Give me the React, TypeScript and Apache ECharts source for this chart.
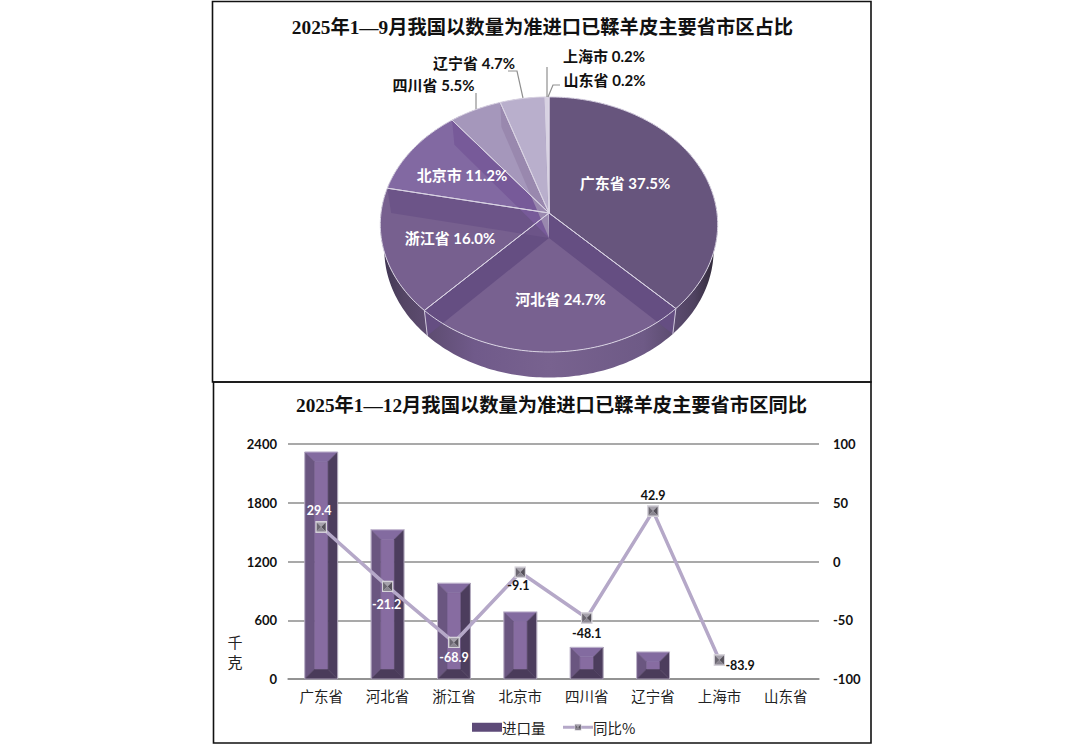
import React, { useEffect, useRef } from "react";
import * as echarts from "echarts";

const pieTitle = "2025年1—9月我国以数量为准进口已鞣羊皮主要省市区占比";
const barTitle = "2025年1—12月我国以数量为准进口已鞣羊皮主要省市区同比";
const provinces = ["广东省", "河北省", "浙江省", "北京市", "四川省", "辽宁省", "上海市", "山东省"];
const pieShares = [37.5, 24.7, 16.0, 11.2, 5.5, 4.7, 0.2, 0.2];
const importKg = [2318, 1524, 978, 685, 323, 276, 12, 12];
const yoyPct = [29.4, -21.2, -68.9, -9.1, -48.1, 42.9, -83.9, null];
const leftTicks = { min: 0, max: 2400, interval: 600 };
const rightTicks = { min: -100, max: 100, interval: 50 };

const sliceColors = ["#67557d", "#786190", "#77608f", "#8269a2", "#a597bb", "#b9afcc", "#d8d2e3", "#e4e0ec"];
const bandColors = ["#654e82", "#654e82", "#6c5488", "#775a99", "#9988ae", "#aa9fc0", "#d8d2e3", "#e4e0ec"];
const labelBoxes: any[] = [
  { x: 625, y: 183, fill: "#fff" },
  { x: 560.5, y: 299, fill: "#fff" },
  { x: 450, y: 238, fill: "#fff" },
  { x: 462, y: 175, fill: "#fff" },
  { x: 433.5, y: 85, fill: "#111", line: [[476, 93], [476, 109]] },
  { x: 474, y: 63, fill: "#111", line: [[508, 71], [517, 71], [523, 98]] },
  { x: 604, y: 56, fill: "#111", line: [[547, 67], [547, 97]] },
  { x: 604.5, y: 80, fill: "#111", line: [[560, 85], [553, 85], [548, 97]] },
];
const lineLabelLayout: any[] = [
  { position: "top", color: "#fff", offset: [-2, 1] },
  { position: "bottom", color: "#fff", offset: [-1, 1] },
  { position: "bottom", color: "#fff", offset: [0, -2] },
  { position: "bottom", color: "#111", offset: [-2, -4] },
  { position: "bottom", color: "#111", offset: [0, -2] },
  { position: "top", color: "#111", offset: [0, 2] },
  { position: "right", color: "#111", offset: [-5, 5] },
  { position: "top", color: "#111", offset: [0, 0] },
];

const cjk = '"Noto Sans CJK SC"';
const latin = `Lato, ${cjk}`;
const serif = `"Liberation Serif", ${cjk}`;

const markerSvg =
  "image://data:image/svg+xml;utf8," +
  encodeURIComponent(
    '<svg xmlns="http://www.w3.org/2000/svg" width="24" height="24">' +
      '<rect width="24" height="24" fill="#d6d3da"/>' +
      '<polygon points="3,3 21,3 12,12" fill="#a5a1ab"/>' +
      '<polygon points="3,3 12,12 3,21" fill="#6c6872"/>' +
      '<polygon points="21,3 21,21 12,12" fill="#55515a"/>' +
      '<polygon points="3,21 21,21 12,12" fill="#8a8690"/>' +
      "</svg>"
  );

// Perspective projection of a tilted disc; theta runs clockwise from the top.
const K = 0.09;
function project(theta: number, disc: any, r = 1) {
  const X = Math.sin(theta) * r;
  const Y = -Math.cos(theta) * r;
  const w = 1 - K * Y;
  return [disc.cx + (disc.rx * X) / w, disc.cy + (disc.ry * Y) / w];
}
const topDisc = { cx: 549, cy: 213, rx: 168, ry: 126.5 };
const bottomDisc = { cx: 549, cy: 238, rx: 164, ry: 127 };
const total = pieShares.reduce((a, b) => a + b, 0);
const angleAt = (i: number) =>
  (pieShares.slice(0, i).reduce((a, b) => a + b, 0) / total) * Math.PI * 2;
function arc(a0: number, a1: number, disc: any) {
  const n = Math.max(2, Math.ceil((a1 - a0) / 0.02));
  const pts: number[][] = [];
  for (let k = 0; k <= n; k++) pts.push(project(a0 + ((a1 - a0) * k) / n, disc));
  return pts;
}

const wallFill = new echarts.graphic.LinearGradient(
  380, 0, 718, 0,
  [
    { offset: 0, color: "#3d3350" },
    { offset: 0.07, color: "#544564" },
    { offset: 0.28, color: "#705a8a" },
    { offset: 0.5, color: "#78628f" },
    { offset: 0.78, color: "#6e5a86" },
    { offset: 0.93, color: "#4f4260" },
    { offset: 1, color: "#2c2633" },
  ],
  true as any
);

function renderPie(params: any) {
  const i = params.dataIndex;
  const a0 = angleAt(i);
  const a1 = angleAt(i + 1);
  const topArc = arc(a0, a1, topDisc);
  const bottomArc = arc(a0, a1, bottomDisc);
  const center = [topDisc.cx, topDisc.cy];
  const centerB = [bottomDisc.cx, bottomDisc.cy];
  const children: any[] = [
    {
      type: "polygon", z2: 1,
      shape: { points: [...topArc, ...bottomArc.slice().reverse()] },
      style: { fill: wallFill },
    },
    {
      type: "polygon", z2: 2,
      shape: { points: [center, ...topArc] },
      style: { fill: sliceColors[i] },
    },
    {
      type: "polygon", z2: 3,
      shape: { points: [center, project(a1, topDisc), project(a1, bottomDisc), centerB] },
      style: { fill: bandColors[i] },
    },
    {
      type: "polyline", z2: 4,
      shape: { points: [center, ...topArc, center] },
      style: { fill: "none", stroke: "#d9d3e3", lineWidth: 1 },
    },
    {
      type: "line", z2: 4,
      shape: {
        x1: project(a0, topDisc)[0], y1: project(a0, topDisc)[1],
        x2: project(a0, bottomDisc)[0], y2: project(a0, bottomDisc)[1],
      },
      style: { stroke: a0 > Math.PI * 0.6 && a0 < Math.PI * 1.4 ? "#cfc8da" : "rgba(0,0,0,0)", lineWidth: 1 },
    },
  ];
  const box = labelBoxes[i];
  if (box.line) {
    children.push({
      type: "polyline", z2: 5,
      shape: { points: box.line },
      style: { fill: "none", stroke: "#8f8f8f", lineWidth: 1.2 },
    });
  }
  children.push({
    type: "text", z2: 6,
    style: {
      x: box.x, y: box.y,
      text: `${provinces[i]} ${pieShares[i].toFixed(1)}%`,
      fill: box.fill,
      font: `bold 15px ${latin}`,
      align: "center", verticalAlign: "middle",
    },
  });
  return { type: "group", children };
}

function renderBar(params: any, api: any) {
  const idx = api.value(0);
  const top = api.coord([idx, api.value(1)]);
  const base = api.coord([idx, 0]);
  const w = api.size([1, 0])[0] * 0.495;
  const h = base[1] - top[1];
  const l = top[0] - w / 2;
  const r = top[0] + w / 2;
  const t = top[1];
  const b = base[1];
  if (h < 3) return { type: "group", children: [] };
  const bevel = Math.min(9.5, h / 2, w / 2);
  const poly = (points: number[][], fill: string) => ({
    type: "polygon",
    shape: { points },
    style: { fill, stroke: fill, lineWidth: 0.6 },
  });
  return {
    type: "group",
    children: [
      poly([[l + bevel, t + bevel], [r - bevel, t + bevel], [r - bevel, b - bevel], [l + bevel, b - bevel]], "#876ca1"),
      poly([[l, t], [r, t], [r - bevel, t + bevel], [l + bevel, t + bevel]], "#836ba0"),
      poly([[l, t], [l + bevel, t + bevel], [l + bevel, b - bevel], [l, b]], "#6a5680"),
      poly([[r, t], [r, b], [r - bevel, b - bevel], [r - bevel, t + bevel]], "#4c3d5d"),
      poly([[l, b], [l + bevel, b - bevel], [r - bevel, b - bevel], [r, b]], "#4a3b5a"),
      {
        type: "rect",
        shape: { x: l, y: t, width: w, height: h },
        style: { fill: "none", stroke: "#d5cfdf", lineWidth: 0.7 },
      },
    ],
  };
}

const frame = (x: number, y: number, width: number, height: number) => ({
  type: "rect",
  shape: { x, y, width, height },
  style: { fill: "none", stroke: "#111", lineWidth: 1.6 },
  z: 10,
});

export default function App() {
  const ref = useRef<HTMLDivElement>(null);
  useEffect(() => {
    const chart = echarts.init(ref.current!, undefined, { renderer: "svg" });
    chart.setOption({
      animation: false,
      backgroundColor: "#fff",
      title: [
        {
          text: pieTitle, left: 537.5, top: 13, textAlign: "center",
          textStyle: { fontFamily: serif, fontSize: 19.3, fontWeight: "bold", color: "#111" },
        },
        {
          text: barTitle, left: 546.5, top: 391, textAlign: "center",
          textStyle: { fontFamily: serif, fontSize: 19.3, fontWeight: "bold", color: "#111" },
        },
      ],
      legend: {
        data: [{ name: "进口量", icon: "rect" }, { name: "同比%" }],
        left: 467, top: 715,
        itemWidth: 30, itemHeight: 9, itemGap: 16,
        symbolSize: 13,
        lineStyle: { color: "#b5a8c8", width: 3 },
        textStyle: { fontFamily: cjk, fontSize: 14.5, color: "#222", padding: [0, -5, 0, -5] },
      },
      grid: { left: 288, width: 531, top: 444, height: 235 },
      xAxis: {
        type: "category",
        data: provinces,
        axisTick: { show: false },
        axisLine: { lineStyle: { color: "#8c8c8c", width: 1.5 } },
        axisLabel: { fontFamily: cjk, fontSize: 14.5, color: "#222", margin: 9, interval: 0 },
      },
      yAxis: [
        {
          type: "value", ...leftTicks,
          axisLine: { show: false }, axisTick: { show: false },
          splitLine: { lineStyle: { color: "#8c8c8c", width: 1.5 } },
          axisLabel: {
            fontFamily: latin, fontWeight: "bold", fontSize: 13, color: "#111", margin: 11,
            formatter: (v: number) => String(v),
          },
        },
        {
          type: "value", ...rightTicks, position: "right",
          axisLine: { show: false }, axisTick: { show: false },
          splitLine: { show: false },
          axisLabel: {
            fontFamily: latin, fontWeight: "bold", fontSize: 13, color: "#111", margin: 14,
            formatter: (v: number) => String(v),
          },
        },
      ],
      series: [
        {
          type: "custom", name: "占比", coordinateSystem: "none",
          data: pieShares, renderItem: renderPie, z: 1, silent: true,
        },
        {
          type: "custom", name: "进口量",
          xAxisIndex: 0, yAxisIndex: 0,
          data: importKg.map((v, i) => [i, v]),
          encode: { x: 0, y: 1 },
          itemStyle: { color: "#5d4a78" },
          renderItem: renderBar, z: 2,
        },
        {
          type: "line", name: "同比%", yAxisIndex: 1,
          data: yoyPct.map((v, i) => ({
            value: v,
            label: {
              show: true,
              formatter: String(v),
              fontFamily: latin, fontWeight: "bold", fontSize: 12.5,
              ...lineLabelLayout[i],
            },
          })),
          symbol: markerSvg, symbolSize: 12,
          lineStyle: { color: "#b5a8c8", width: 3.5 },
          itemStyle: { color: "#b5a8c8" },
          z: 3,
        },
      ],
      graphic: [
        frame(212.5, 1.5, 658.5, 380.5),
        frame(213.5, 382, 657.5, 361),
        {
          type: "text", x: 235, y: 641, z: 5,
          style: { text: "千", font: `15px ${cjk}`, fill: "#222", align: "center", verticalAlign: "middle" },
        },
        {
          type: "text", x: 235, y: 661, z: 5,
          style: { text: "克", font: `15px ${cjk}`, fill: "#222", align: "center", verticalAlign: "middle" },
        },
      ],
    });
    return () => chart.dispose();
  }, []);
  return <div ref={ref} style={{ position: "fixed", left: 0, top: 0, width: 1085, height: 748 }} />;
}
